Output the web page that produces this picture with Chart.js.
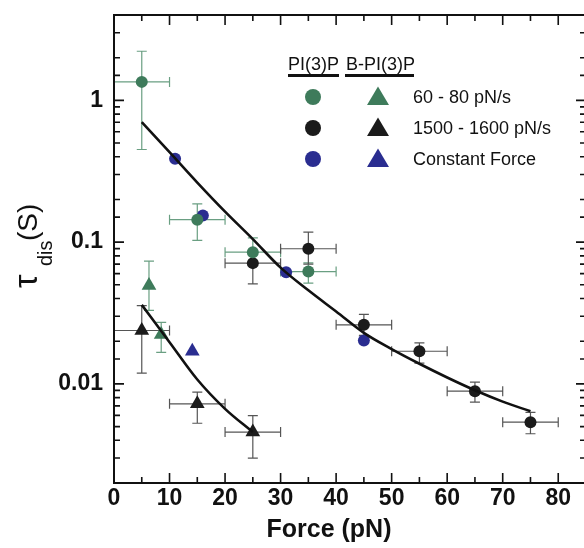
<!DOCTYPE html>
<html>
<head>
<meta charset="utf-8">
<script src="https://cdn.jsdelivr.net/npm/chart.js@4.4.0/dist/chart.umd.min.js"></script>
<style>
  html, body { margin: 0; padding: 0; background: #fff; overflow: hidden; }
</style>
</head>
<body>
<canvas id="tauChart" width="587" height="548"></canvas>
<script>
// PI(3)P, 60 - 80 pN/s
const piSlowForce = [5, 15, 25, 35];
const piSlowTau = [1.35, 0.144, 0.085, 0.062];
const piSlowTauLow = [0.45, 0.103, 0.072, 0.0514];
const piSlowTauHigh = [2.22, 0.186, 0.107, 0.0715];
const piSlowForceErr = [5, 5, 5, 5];

// PI(3)P, 1500 - 1600 pN/s
const piFastForce = [25, 35, 45, 55, 65, 75];
const piFastTau = [0.0711, 0.0898, 0.0261, 0.0170, 0.00888, 0.00537];
const piFastTauLow = [0.0508, 0.07, 0.022, 0.014, 0.00743, 0.00445];
const piFastTauHigh = [0.085, 0.1177, 0.0309, 0.0195, 0.01028, 0.0063];
const piFastForceErr = [5, 5, 5, 5, 5, 5];

// PI(3)P, constant force
const piConstForce = [11, 16, 31, 45];
const piConstTau = [0.388, 0.154, 0.0614, 0.0202];

// B-PI(3)P, 60 - 80 pN/s
const bSlowForce = [6.3, 8.5];
const bSlowTau = [0.0495, 0.0223];
const bSlowTauLow = [0.033, 0.0167];
const bSlowTauHigh = [0.0734, 0.0272];
const bSlowForceErr = [0, 0];

// B-PI(3)P, 1500 - 1600 pN/s
const bFastForce = [5, 15, 25];
const bFastTau = [0.0238, 0.00724, 0.00457];
const bFastTauLow = [0.0119, 0.00528, 0.0030];
const bFastTauHigh = [0.0357, 0.00874, 0.00598];
const bFastForceErr = [5, 5, 5];

// B-PI(3)P, constant force
const bConstForce = [14.1];
const bConstTau = [0.017];

// fit curves
const piFitForce = [5, 10, 15, 20, 25, 30, 35, 40, 45, 50, 55, 60, 65, 70, 75];
const piFitTau = [0.703, 0.431, 0.263, 0.164, 0.105, 0.0661, 0.0457, 0.0324, 0.0229,
                  0.0176, 0.01387, 0.0111, 0.00902, 0.0075, 0.00641];
const bFitForce = [5, 10, 15, 20, 25];
const bFitTau = [0.0361, 0.0197, 0.01074, 0.00667, 0.00457];

const yLabels = ['1', '0.1', '0.01'];
const legendRows = ['60 - 80 pN/s', '1500 - 1600 pN/s', 'Constant Force'];

const GREEN = '#3e7b5b';
const BLACK = '#1b1b1b';
const BLUE = '#2a2d90';
const FONT = '"Liberation Sans", Arial, Helvetica, sans-serif';

function pts(xs, ys) {
  return xs.map((x, i) => ({ x: x, y: ys[i] }));
}

function markers(label, xs, ys, color, style, radius, errs) {
  const ds = {
    label: label,
    data: pts(xs, ys),
    showLine: false,
    pointStyle: style,
    pointRadius: radius,
    pointHoverRadius: radius,
    pointBackgroundColor: color,
    pointBorderColor: color,
    pointBorderWidth: 0
  };
  if (errs) Object.assign(ds, errs);
  return ds;
}

function fitLine(xs, ys) {
  return {
    label: 'fit',
    data: pts(xs, ys),
    showLine: true,
    borderColor: '#111',
    borderWidth: 2.6,
    pointRadius: 0,
    cubicInterpolationMode: 'monotone',
    fill: false
  };
}

const datasets = [
  fitLine(piFitForce, piFitTau),
  fitLine(bFitForce, bFitTau),
  markers('PI slow', piSlowForce, piSlowTau, GREEN, 'circle', 6,
    { errLow: piSlowTauLow, errHigh: piSlowTauHigh, errX: piSlowForceErr, errColor: '#6a9f82' }),
  markers('PI fast', piFastForce, piFastTau, BLACK, 'circle', 6,
    { errLow: piFastTauLow, errHigh: piFastTauHigh, errX: piFastForceErr, errColor: '#555' }),
  markers('PI const', piConstForce, piConstTau, BLUE, 'circle', 6),
  markers('B slow', bSlowForce, bSlowTau, GREEN, 'triangle', 8.5,
    { errLow: bSlowTauLow, errHigh: bSlowTauHigh, errX: bSlowForceErr, errColor: '#6a9f82' }),
  markers('B fast', bFastForce, bFastTau, BLACK, 'triangle', 8.5,
    { errLow: bFastTauLow, errHigh: bFastTauHigh, errX: bFastForceErr, errColor: '#555' }),
  markers('B const', bConstForce, bConstTau, BLUE, 'triangle', 8.5)
];

function isDecade(v) {
  const l = Math.log10(v);
  return Math.abs(l - Math.round(l)) < 1e-9;
}

function noPadding(s) {
  s.paddingLeft = 0;
  s.paddingRight = 0;
  s.paddingTop = 0;
  s.paddingBottom = 0;
}

const decorations = {
  id: 'decorations',
  beforeDatasetsDraw(chart) {
    const ctx = chart.ctx;
    const xs = chart.scales.x, ys = chart.scales.y;
    ctx.save();
    chart.data.datasets.forEach(ds => {
      if (!ds.errLow) return;
      ctx.strokeStyle = ds.errColor;
      ctx.lineWidth = 1.2;
      ds.data.forEach((p, i) => {
        const px = xs.getPixelForValue(p.x);
        const py = ys.getPixelForValue(p.y);
        const yl = ys.getPixelForValue(ds.errLow[i]);
        const yh = ys.getPixelForValue(ds.errHigh[i]);
        ctx.beginPath();
        ctx.moveTo(px, yl); ctx.lineTo(px, yh);
        ctx.moveTo(px - 5, yl); ctx.lineTo(px + 5, yl);
        ctx.moveTo(px - 5, yh); ctx.lineTo(px + 5, yh);
        if (ds.errX[i] > 0) {
          const xl = xs.getPixelForValue(p.x - ds.errX[i]);
          const xh = xs.getPixelForValue(p.x + ds.errX[i]);
          ctx.moveTo(xl, py); ctx.lineTo(xh, py);
          ctx.moveTo(xl, py - 5); ctx.lineTo(xl, py + 5);
          ctx.moveTo(xh, py - 5); ctx.lineTo(xh, py + 5);
        }
        ctx.stroke();
      });
    });
    ctx.restore();
  },
  afterDraw(chart) {
    const ctx = chart.ctx;
    const a = chart.chartArea;
    const xs = chart.scales.x, ys = chart.scales.y;
    ctx.save();
    // frame
    ctx.strokeStyle = '#111';
    ctx.lineWidth = 2;
    ctx.strokeRect(a.left, a.top, a.right - a.left, a.bottom - a.top);
    // inward ticks
    ctx.lineWidth = 1.6;
    ctx.beginPath();
    xs.ticks.forEach(t => {
      const px = xs.getPixelForValue(t.value);
      const len = t.value % 10 === 0 ? 10 : 6;
      ctx.moveTo(px, a.bottom); ctx.lineTo(px, a.bottom - len);
      ctx.moveTo(px, a.top); ctx.lineTo(px, a.top + len);
    });
    ys.ticks.forEach(t => {
      const py = ys.getPixelForValue(t.value);
      const len = isDecade(t.value) ? 10 : 6;
      ctx.moveTo(a.left, py); ctx.lineTo(a.left + len, py);
      ctx.moveTo(a.right, py); ctx.lineTo(a.right - len, py);
    });
    ctx.stroke();

    // x title
    ctx.fillStyle = '#111';
    ctx.font = 'bold 25px ' + FONT;
    ctx.textAlign = 'center';
    ctx.textBaseline = 'alphabetic';
    ctx.fillText('Force (pN)', 329, 537);

    // y title, rotated
    ctx.save();
    ctx.translate(37, 288);
    ctx.rotate(-Math.PI / 2);
    ctx.textAlign = 'left';
    ctx.font = '34px ' + FONT;
    ctx.fillText('\u03c4', 0, 0);
    ctx.font = '20px ' + FONT;
    ctx.fillText('dis', 22, 15);
    ctx.font = '28px ' + FONT;
    ctx.fillText('(S)', 47, 0);
    ctx.restore();

    // legend
    ctx.font = '18px ' + FONT;
    ctx.textAlign = 'left';
    ctx.textBaseline = 'alphabetic';
    ctx.fillText('PI(3)P', 288, 70);
    ctx.fillText('B-PI(3)P', 346, 70);
    ctx.lineWidth = 3;
    ctx.beginPath();
    ctx.moveTo(288, 75.5); ctx.lineTo(339, 75.5);
    ctx.moveTo(345, 75.5); ctx.lineTo(414, 75.5);
    ctx.stroke();
    const rowColors = [GREEN, BLACK, BLUE];
    const rowY = [97, 128, 159];
    ctx.textBaseline = 'middle';
    legendRows.forEach((txt, i) => {
      ctx.fillStyle = rowColors[i];
      ctx.beginPath();
      ctx.arc(313, rowY[i], 8, 0, Math.PI * 2);
      ctx.fill();
      ctx.beginPath();
      ctx.moveTo(378, rowY[i] - 10.5);
      ctx.lineTo(389, rowY[i] + 8);
      ctx.lineTo(367, rowY[i] + 8);
      ctx.closePath();
      ctx.fill();
      ctx.fillStyle = '#111';
      ctx.fillText(txt, 413, rowY[i] + 1);
    });
    ctx.restore();
  }
};

new Chart(document.getElementById('tauChart'), {
  type: 'scatter',
  data: { datasets: datasets },
  options: {
    responsive: false,
    devicePixelRatio: 1,
    animation: false,
    layout: { autoPadding: false, padding: { top: 15, right: 1, left: 0, bottom: 0 } },
    plugins: { legend: { display: false }, tooltip: { enabled: false } },
    scales: {
      x: {
        type: 'linear',
        min: 0,
        max: 85,
        grid: { display: false, drawTicks: false },
        border: { display: false },
        ticks: {
          stepSize: 5,
          autoSkip: false,
          maxRotation: 0,
          padding: 2,
          color: '#111',
          font: { family: FONT, size: 23, weight: 'bold' },
          callback: v => (v % 10 === 0 && v <= 80 ? String(v) : '')
        },
        afterFit: s => { s.height = 65; noPadding(s); }
      },
      y: {
        type: 'logarithmic',
        min: 0.002,
        max: 4,
        grid: { display: false, drawTicks: false },
        border: { display: false },
        ticks: {
          autoSkip: false,
          padding: 11,
          color: '#111',
          font: { family: FONT, size: 23, weight: 'bold' },
          callback: v => {
            if (!isDecade(v)) return '';
            const s = String(Number(v.toPrecision(1)));
            return yLabels.includes(s) ? s : '';
          }
        },
        afterFit: s => { s.width = 114; noPadding(s); }
      }
    }
  },
  plugins: [decorations]
});
</script>
</body>
</html>
